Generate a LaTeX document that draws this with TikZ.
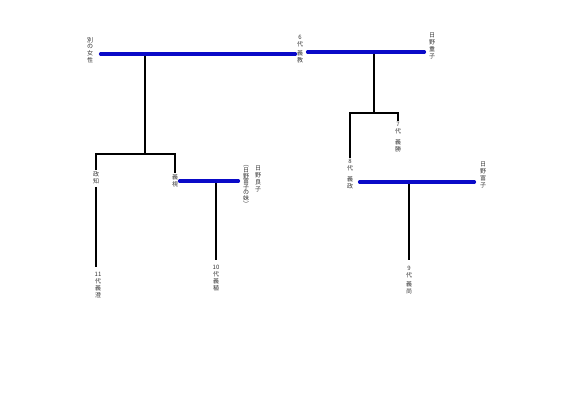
\documentclass[tikz,border=0pt]{standalone}
\usepackage{fontspec}
\newfontfamily\jpfont{Noto Sans CJK JP}
\definecolor{fuufublue}{RGB}{10,10,200}
\begin{document}
\begin{tikzpicture}[x=1pt, y=-1pt,
			tate/.style={align=center, inner sep=1.5pt, font=\jpfont\fontsize{6}{6.8}\selectfont, text=black!80},
			fuufu/.style={draw=fuufublue, line width=3.6pt, line cap=round},
			oyako/.style={draw=black, line width=1.8pt}
			]
			\useasboundingbox (0,0) rectangle (586,410);
			% 6代の世代
			\node[tate] (betsu) at (90,50) {別\\の\\女\\性};
			\node[tate] (yoshinori) at (300,49) {6\\代\\[3pt]義\\教};
			\node[tate] (jushi) at (432,46) {日\\野\\重\\子};
			% 子の世代
			\node[tate] (masatomo) at (96,178) {政\\知};
			\node[tate] (yoshimi) at (175,181) {義\\視};
			\node[tate] (yoshiko) at (258,179) {日\\野\\良\\子};
			\node[tate, font=\jpfont\fontsize{6}{5.6}\selectfont] (imouto) at (246,186) {︵\\日\\野\\富\\子\\の\\妹\\︶};
			\node[tate] (yoshikatsu) at (398,137) {7\\代\\[4pt]義\\勝};
			\node[tate] (yoshimasa) at (350,174) {8\\代\\[4pt]義\\政};
			\node[tate] (tomiko) at (483,175) {日\\野\\富\\子};
			% 孫の世代
			\node[tate] (yoshizumi) at (98,285) {11\\代\\義\\澄};
			\node[tate] (yoshitane) at (216,278) {10\\代\\義\\稙};
			\node[tate] (yoshihisa) at (409,280) {9\\代\\[3pt]義\\尚};
			% 分かれ目
			\coordinate (c1) at (145,54);
			\coordinate (k1) at (145,154);
			\coordinate (c2) at (374,52);
			\coordinate (k2) at (374,113);
			\coordinate (c3) at (216,181);
			\coordinate (c4) at (409,182);
			% 親子の線
			\draw[oyako] (c1) -- (k1);
			\draw[oyako] (masatomo.north) |- (k1) -| (yoshimi.north);
			\draw[oyako] (c2) -- (k2);
			\draw[oyako] (yoshimasa.north) |- (k2) -| (yoshikatsu.north);
			\draw[oyako, shorten >=4pt] (c3) -- (yoshitane.north);
			\draw[oyako, shorten >=4pt] (c4) -- (yoshihisa.north);
			\draw[oyako, shorten <=1pt, shorten >=4pt] (masatomo.south) -- (masatomo.south |- yoshizumi.north);
			% 夫婦の線
			\draw[fuufu, shorten <=6pt] (betsu.east |- c1) -- (yoshinori.west |- c1);
			\draw[fuufu, shorten <=3pt, shorten >=3pt] (yoshinori.east |- c2) -- (jushi.west |- c2);
			\draw[fuufu, shorten >=3pt] (yoshimi.east |- c3) -- (imouto.west |- c3);
			\draw[fuufu, shorten <=5pt, shorten >=4pt] (yoshimasa.east |- c4) -- (tomiko.west |- c4);
		\end{tikzpicture}
\end{document}
